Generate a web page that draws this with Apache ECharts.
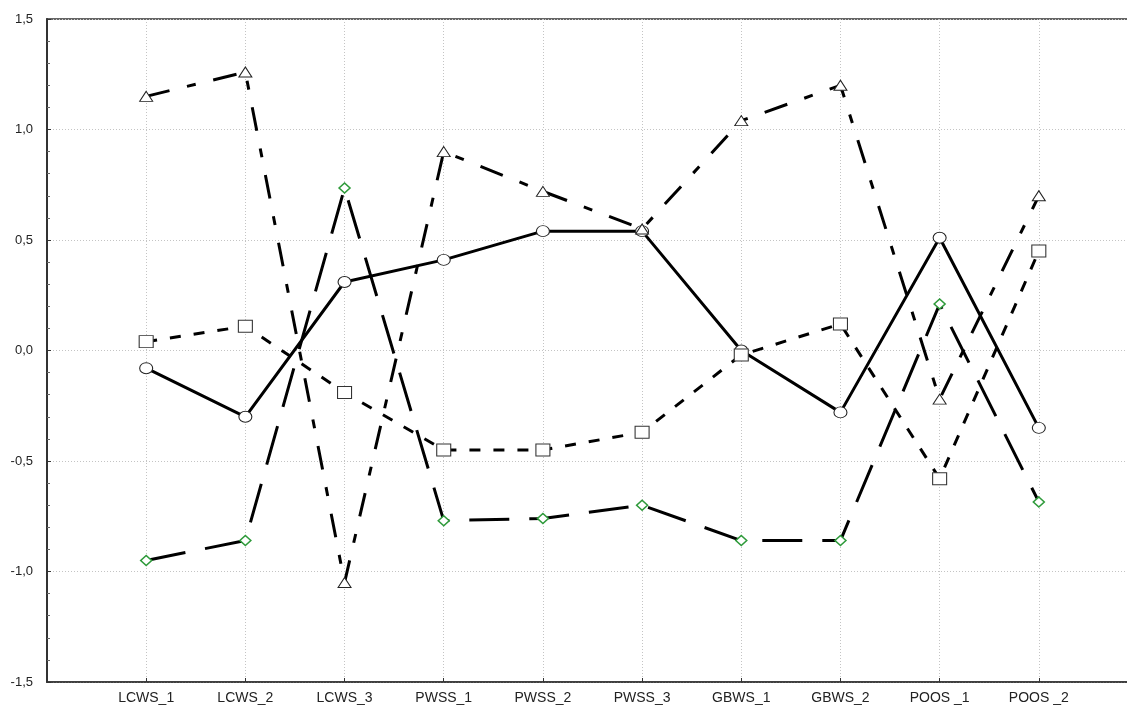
<!DOCTYPE html>
<html>
<head>
<meta charset="utf-8">
<script src="https://cdn.jsdelivr.net/npm/echarts@6/dist/echarts.min.js"></script>
<style>
html,body{margin:0;padding:0;background:#fff;}
#chart{width:1127px;height:707px;}
</style>
</head>
<body>
<div id="chart"></div>
<script>
const categories = ['LCWS_1','LCWS_2','LCWS_3','PWSS_1','PWSS_2','PWSS_3','GBWS_1','GBWS_2','POOS _1','POOS _2'];
const circleValues   = [-0.08, -0.30, 0.31, 0.41, 0.54, 0.54, 0.00, -0.28, 0.51, -0.35];
const triangleValues = [1.15, 1.26, -1.05, 0.90, 0.72, 0.55, 1.04, 1.20, -0.22, 0.70];
const diamondValues  = [-0.95, -0.86, 0.735, -0.77, -0.76, -0.70, -0.86, -0.86, 0.21, -0.685];
const squareValues   = [0.04, 0.11, -0.19, -0.45, -0.45, -0.37, -0.02, 0.12, -0.58, 0.45];
const yTicks = [-1.5, -1.0, -0.5, 0.0, 0.5, 1.0, 1.5];

function pairs(vals){ return vals.map((v,i)=>[i+1, v]); }

const chart = echarts.init(document.getElementById('chart'), null, {renderer:'canvas'});
const font = 'Liberation Sans, Arial, sans-serif';
chart.setOption({
  animation: false,
  backgroundColor: '#fff',
  grid: {left: 47, top: 19, width: 1091, height: 663, show: true, borderColor: '#333', borderWidth: 1.5,
         backgroundColor: 'transparent', containLabel: false, outerBoundsMode: 'none'},
  xAxis: {
    type: 'value', min: 0, max: categories.length + 1, interval: 1,
    axisLine: {show: true, onZero: false, lineStyle: {color: '#333', width: 1.5}},
    axisTick: {show: true, inside: true, length: 4, lineStyle: {color: '#333'}},
    axisLabel: {
      margin: 9, fontSize: 14, color: '#222', fontFamily: font,
      formatter: v => categories[v - 1] || ''
    },
    splitLine: {show: true, lineStyle: {color: '#c4c4c4', type: [1, 2], width: 1}}
  },
  yAxis: {
    type: 'value', min: yTicks[0], max: yTicks[yTicks.length - 1], interval: 0.5,
    axisLine: {show: true, onZero: false, lineStyle: {color: '#333', width: 2}},
    axisTick: {show: true, inside: true, length: 4, lineStyle: {color: '#333'}},
    minorTick: {show: true, splitNumber: 5, length: 3, lineStyle: {color: '#666'}},
    axisLabel: {
      margin: 14, fontSize: 13, color: '#222', fontFamily: font,
      formatter: v => v.toFixed(1).replace('.', ',')
    },
    splitLine: {show: true, lineStyle: {color: '#c4c4c4', type: [1, 2], width: 1}}
  },
  series: [
    {
      type: 'line', data: pairs(circleValues), symbol: 'circle', symbolSize: [13, 11],
      itemStyle: {color: '#fff', borderColor: '#222', borderWidth: 1},
      lineStyle: {color: '#000', width: 3}
    },
    {
      type: 'line', data: pairs(triangleValues), symbol: 'triangle', symbolSize: [13, 10],
      itemStyle: {color: '#fff', borderColor: '#222', borderWidth: 1},
      lineStyle: {color: '#000', width: 3, type: [24, 18, 9, 18], cap: 'butt'}
    },
    {
      type: 'line', data: pairs(diamondValues), symbol: 'diamond', symbolSize: [11, 10],
      itemStyle: {color: '#fff', borderColor: '#2e9a3a', borderWidth: 1.5},
      lineStyle: {color: '#000', width: 3, type: [40, 20], cap: 'butt'}
    },
    {
      type: 'line', data: pairs(squareValues), symbol: 'rect', symbolSize: [14, 12],
      itemStyle: {color: '#fff', borderColor: '#333', borderWidth: 1},
      lineStyle: {color: '#000', width: 3, type: [11, 13], cap: 'butt'}
    }
  ]
});
</script>
</body>
</html>
